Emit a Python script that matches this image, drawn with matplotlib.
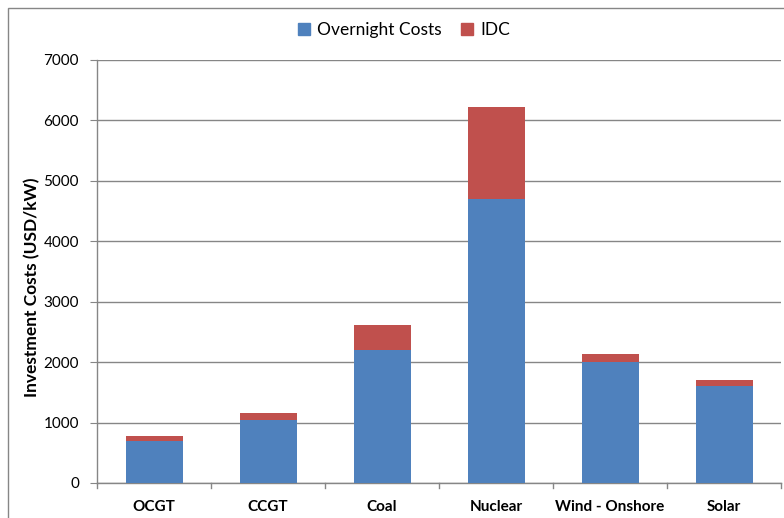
import matplotlib
matplotlib.use("Agg")
import matplotlib.pyplot as plt
from matplotlib.patches import Rectangle

categories = ["OCGT", "CCGT", "Coal", "Nuclear", "Wind - Onshore", "Solar"]
overnight = [700, 1050, 2200, 4700, 2000, 1600]
idc = [80, 105, 410, 1520, 140, 110]
yticks = [0, 1000, 2000, 3000, 4000, 5000, 6000, 7000]

plt.rcParams["font.family"] = ["Lato", "DejaVu Sans"]

W, H = 784, 518
fig = plt.figure(figsize=(W / 100, H / 100), dpi=100)
ax = fig.add_axes([97 / W, 1 - 483 / H, (781 - 97) / W, (483 - 60) / H])

x = list(range(len(categories)))
blue = "#4F81BD"
red = "#C0504D"
ax.bar(x, overnight, width=0.5, color=blue, label="Overnight Costs", zorder=3)
ax.bar(x, idc, width=0.5, bottom=overnight, color=red, label="IDC", zorder=3)

ax.set_xlim(-0.5, len(categories) - 0.5)
ax.set_ylim(0, 7000)
ax.set_yticks(yticks)
ax.set_yticklabels([str(v) for v in yticks], fontsize=11)
ax.set_xticks(x)
ax.set_xticklabels(categories, fontsize=11, fontweight="bold")
ax.tick_params(axis="x", length=0, pad=12)
ax.tick_params(axis="y", length=5, color="#868686", pad=8)

# category separator ticks on the x axis
for b in range(len(categories) + 1):
    ax.plot([b - 0.5, b - 0.5], [0, -0.012], transform=ax.get_xaxis_transform(),
            color="#868686", lw=1, clip_on=False)

ax.grid(axis="y", color="#868686", lw=1, zorder=0)
for side in ["top", "right"]:
    ax.spines[side].set_visible(False)
for side in ["left", "bottom"]:
    ax.spines[side].set_color("#868686")
    ax.spines[side].set_linewidth(1)

ax.set_ylabel("Investment Costs (USD/kW)", fontsize=12.5, fontweight="bold")
ax.yaxis.set_label_coords(-0.083, (483 - 287) / (483 - 60))

handles = [Rectangle((0, 0), 1, 1, color=blue), Rectangle((0, 0), 1, 1, color=red)]
fig.legend(handles, ["Overnight Costs", "IDC"], loc="center", bbox_to_anchor=(404 / W, 1 - 30 / H),
           ncol=2, frameon=False, fontsize=12.5, handlelength=0.7, handleheight=0.7,
           handletextpad=0.4, columnspacing=1.1)

# chart border
fig.add_artist(Rectangle((8 / W, -0.05), 1.0, 1 - 8 / H + 0.05, transform=fig.transFigure,
                         fill=False, edgecolor="#868686", lw=1))

fig.savefig("out.png", dpi=100)
